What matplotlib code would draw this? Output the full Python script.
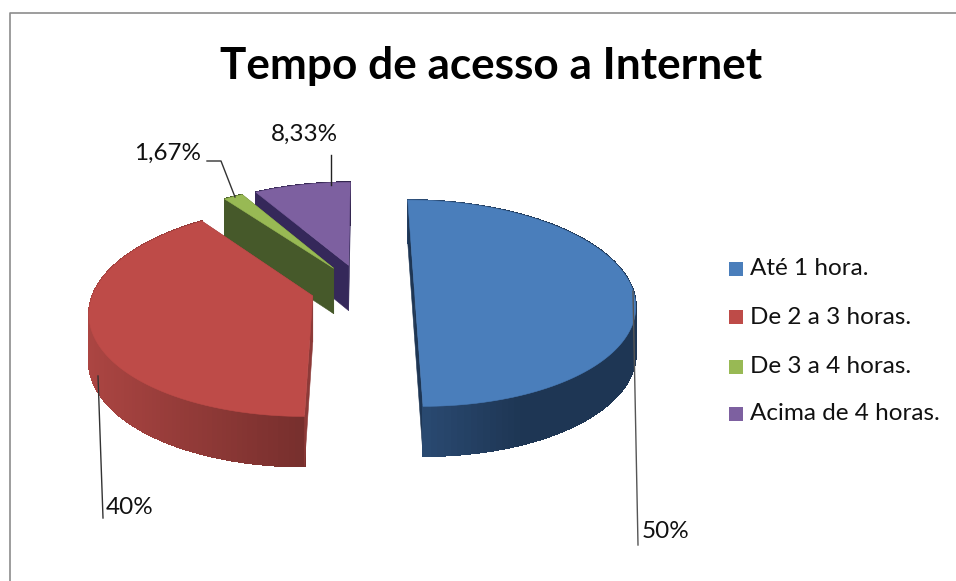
import numpy as np
import matplotlib
matplotlib.use('Agg')
import matplotlib.pyplot as plt
from matplotlib.collections import PolyCollection
from matplotlib.colors import to_rgb
from matplotlib.patches import Rectangle

title = 'Tempo de acesso a Internet'
categories = ['Até 1 hora.', 'De 2 a 3 horas.', 'De 3 a 4 horas.', 'Acima de 4 horas.']
values = [50, 40, 1.67, 8.33]
value_labels = ['50%', '40%', '1,67%', '8,33%']

top_colors = ['#4a7ebb', '#be4b48', '#98b954', '#7d60a0']
rim_start = ['#2c4d77', '#ab4542', '#4a5f2a', '#3b2c5c']
rim_end = ['#1e3654', '#772f2d', '#3f5226', '#33264f']
face_colors = ['#1e3654', '#8d3a38', '#46592a', '#35285a']

# pie projection, in pixels
cx, cy = 362, 288.5
rx, ry = 218, 101
persp = 1 / 7
explode = [0.24, 0.235, 0.245, 0.245]
wall = 46


def project(X, Z):
    s = 1 / (1 + persp * Z)
    return cx + rx * X * s, cy - ry * Z * s, s


def slice_points(start, end, pull, n=120):
    # outer arc of one slice plus its apex, angles clockwise from the top
    mid = np.radians((start + end) / 2)
    dx, dz = pull * np.sin(mid), pull * np.cos(mid)
    t = np.radians(np.linspace(start, end, n))
    ox, oy, os_ = project(dx + np.sin(t), dz + np.cos(t))
    px, py, ps = project(dx, dz)
    return ox, oy, os_, px, py, ps


def drop(s):
    return wall * np.sqrt(s)


plt.rcParams['font.family'] = ['Lato', 'DejaVu Sans']
fig = plt.figure(figsize=(9.56, 5.81), dpi=100)
ax = fig.add_axes([0, 0, 1, 1])
ax.set_xlim(0, 956)
ax.set_ylim(581, 0)
ax.axis('off')

# chart frame, open on the right and at the bottom
ax.plot([10.5, 10.5, 956], [581, 12.5, 12.5], color='#8c8c8c', lw=1.2)

ax.text(491, 66, title, ha='center', va='center', fontsize=31.8, fontweight='bold', color='black')

# back to front: purple, green, red, blue
angles = np.cumsum([0] + values) / sum(values) * 360
for layer, i in enumerate([3, 2, 1, 0]):
    ox, oy, os_, px, py, ps = slice_points(angles[i], angles[i + 1], explode[i])
    z = 2 + layer * 0.1
    a, b = np.array(to_rgb(rim_start[i])), np.array(to_rgb(rim_end[i]))


    def cut_face(j, zorder):
        face = [(ox[j], oy[j]), (px, py), (px, py + drop(ps)), (ox[j], oy[j] + drop(os_[j]))]
        ax.fill(*zip(*face), color=face_colors[i], lw=0.4, zorder=zorder)


    cut_face(-1, z)

    # shaded outer wall, split in narrow strips
    quads, cols = [], []
    for k in range(len(ox) - 1):
        quads.append([(ox[k], oy[k]), (ox[k + 1], oy[k + 1]),
                      (ox[k + 1], oy[k + 1] + drop(os_[k + 1])), (ox[k], oy[k] + drop(os_[k]))])
        f = (ox[k] - ox.min()) / max(ox.max() - ox.min(), 1)
        f = min(f * 2, 1) if i == 0 else f
        cols.append(tuple(a * (1 - f) + b * f))
    ax.add_collection(PolyCollection(quads, facecolors=cols, edgecolors=cols, linewidths=0.8,
                                     antialiased=False, zorder=z + 0.01))

    cut_face(0, z + 0.02)

    # top surface
    ax.fill(np.r_[ox, px], np.r_[oy, py], color=top_colors[i], lw=0.4, zorder=z + 0.05)

# leader lines and value labels
leaders = [[(633, 291), (638, 545)], [(98, 376), (103, 518)],
           [(207, 161), (221, 161), (235, 197)], [(331, 155), (331, 185)]]
leader_colors = ['#555555', '#333333', '#333333', '#222222']
label_pos = [(642, 532), (106, 508), (134, 153), (271, 134)]
for pts, c, pos, txt in zip(leaders, leader_colors, label_pos, value_labels):
    ax.plot(*zip(*pts), color=c, lw=1, zorder=4)
    ax.text(pos[0], pos[1], txt, ha='left', va='center', fontsize=17.5, color='#111111', zorder=5)

# legend
legend_y = [268.5, 317, 366.5, 414]
for name, c, y in zip(categories, top_colors, legend_y):
    ax.add_patch(Rectangle((729, y - 7), 14, 14, color=c, lw=0))
    ax.text(750, y, name, ha='left', va='center', fontsize=17.5, color='#111111')

fig.savefig('out.png', dpi=100)
